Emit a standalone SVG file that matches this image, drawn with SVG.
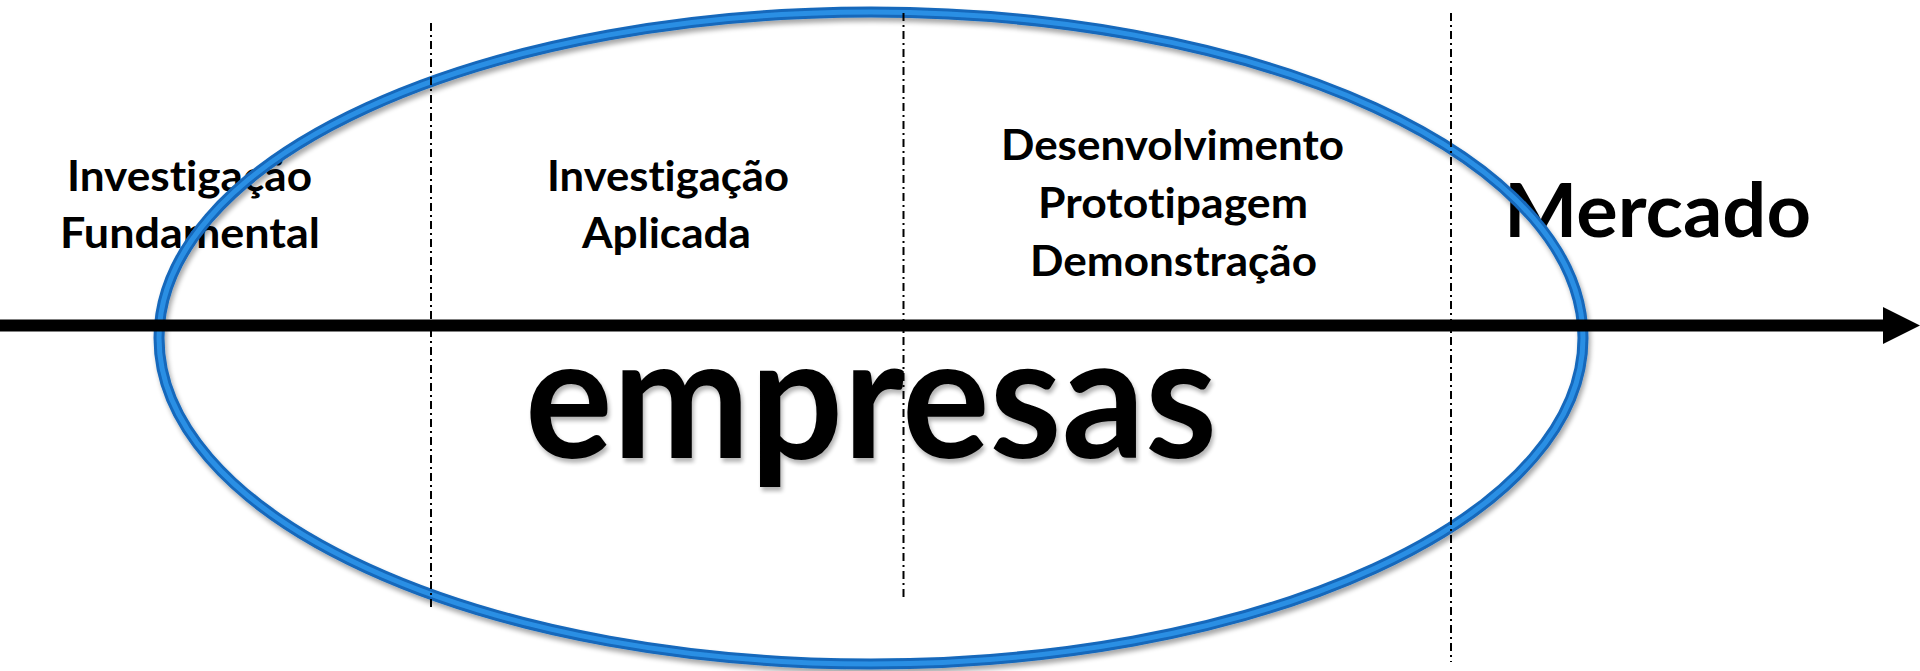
<svg xmlns="http://www.w3.org/2000/svg" width="1920" height="671" viewBox="0 0 1920 671">
  <style>
    .lbl { font-family: Lato, "Open Sans", "Liberation Sans", sans-serif; font-weight: 700; fill: #000; font-variant-ligatures: none; font-feature-settings: "liga" 0, "clig" 0; }
    .small { font-size: 42px; }
    .div { stroke: #000; stroke-width: 2; stroke-dasharray: 8 4 2 4; fill: none; }
  </style>
  <defs>
    <filter id="shadow" x="-10%" y="-10%" width="120%" height="130%">
      <feGaussianBlur in="SourceAlpha" stdDeviation="2.5"/>
      <feOffset dx="2" dy="4" result="b"/>
      <feComponentTransfer><feFuncA type="linear" slope="0.35"/></feComponentTransfer>
      <feMerge><feMergeNode/><feMergeNode in="SourceGraphic"/></feMerge>
    </filter>
    <filter id="tshadow" x="-5%" y="-10%" width="110%" height="130%">
      <feGaussianBlur in="SourceAlpha" stdDeviation="2"/>
      <feOffset dx="2" dy="4" result="b"/>
      <feComponentTransfer><feFuncA type="linear" slope="0.3"/></feComponentTransfer>
      <feMerge><feMergeNode/><feMergeNode in="SourceGraphic"/></feMerge>
    </filter>
  </defs>
  <rect width="1920" height="671" fill="#fff"/>

  <g id="label-fundamental">
    <text class="lbl small" x="67" y="191" textLength="245" lengthAdjust="spacingAndGlyphs">Investigação</text>
    <text class="lbl small" x="60" y="248" textLength="260" lengthAdjust="spacingAndGlyphs">Fundamental</text>
  </g>
  <g id="label-aplicada">
    <text class="lbl small" x="547" y="191" textLength="242" lengthAdjust="spacingAndGlyphs">Investigação</text>
    <text class="lbl small" x="582" y="248" textLength="169" lengthAdjust="spacingAndGlyphs">Aplicada</text>
  </g>
  <g id="label-desenvolvimento">
    <text class="lbl small" x="1001" y="160" textLength="343" lengthAdjust="spacingAndGlyphs">Desenvolvimento</text>
    <text class="lbl small" x="1038" y="218" textLength="270" lengthAdjust="spacingAndGlyphs">Prototipagem</text>
    <text class="lbl small" x="1030" y="276" textLength="287" lengthAdjust="spacingAndGlyphs">Demonstração</text>
  </g>
  <g id="label-mercado">
    <text class="lbl" x="1504" y="237" font-size="75" font-weight="900" textLength="307" lengthAdjust="spacingAndGlyphs">Mercado</text>
  </g>
  <g id="label-empresas" filter="url(#tshadow)">
    <text class="lbl" x="525" y="458" font-size="170" font-weight="900" textLength="692" lengthAdjust="spacingAndGlyphs">empresas</text>
  </g>

  <g id="ellipse-empresas" filter="url(#shadow)">
    <ellipse cx="871" cy="338" rx="712" ry="326" fill="none" stroke="#1468bb" stroke-width="11"/>
    <ellipse cx="871" cy="338" rx="712" ry="326" fill="none" stroke="#2b8fe4" stroke-width="5"/>
  </g>

  <g id="connectors">
    <line x1="0" y1="325.5" x2="1885" y2="325.5" stroke="#000" stroke-width="12"/>
    <polygon points="1883,307 1920,325.5 1883,344" fill="#000"/>
  </g>

  <g id="dividers">
    <line class="div" x1="431" y1="23" x2="431" y2="608"/>
    <line class="div" x1="903.5" y1="13" x2="903.5" y2="598"/>
    <line class="div" x1="1451" y1="13" x2="1451" y2="662"/>
  </g>
</svg>
